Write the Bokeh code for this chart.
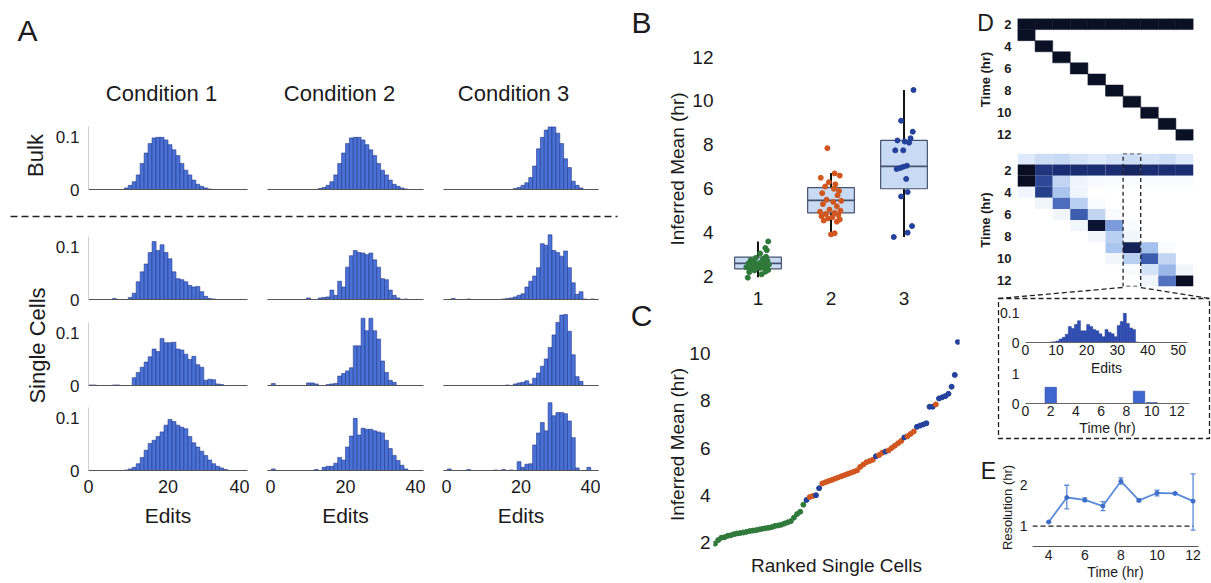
import math
from bokeh.plotting import figure
from bokeh.models import (Range1d, FixedTicker, LinearColorMapper, GridBox, Whisker,
                          TeeHead, ColumnDataSource, CustomJSTickFormatter)
from bokeh.core.properties import value
from bokeh.embed import file_html
from bokeh.resources import INLINE

FONT = "Liberation Sans"
TXT = "#1b1b1b"
BAR_FILL = "#4a71d6"
BAR_LINE = "#24398c"

# ---------------- data ----------------
conditions = ["Condition 1", "Condition 2", "Condition 3"]
row_names = ["Bulk", "Single Cells"]
edit_bins = list(range(40))
edit_ticks = [0, 20, 40]
hist_ticks = [0, 0.1]

bulk_c1 = [0,0,0,0,0,0,0,0,0,0.003, 0.008,0.015,0.028,0.05,0.07,0.088,0.099,0.1,0.1,0.095,
           0.086,0.076,0.065,0.05,0.037,0.028,0.018,0.01,0.006,0.003, 0.001,0,0,0,0,0,0,0,0,0]
bulk_c2 = [0,0,0,0,0,0,0,0,0,0, 0,0,0,0.002,0.004,0.008,0.015,0.028,0.05,0.07,
           0.088,0.099,0.1,0.1,0.095,0.086,0.076,0.065,0.05,0.037, 0.028,0.018,0.01,0.006,0.003,0.001,0,0,0,0]
bulk_c3 = [0,0,0,0,0,0,0,0,0,0, 0,0,0,0,0,0,0,0,0.002,0.004,
           0.008,0.013,0.023,0.045,0.078,0.1,0.114,0.12,0.12,0.108, 0.088,0.059,0.042,0.016,0.008,0.003,0,0,0,0]
sc1_c1 = [0,0,0,0,0,0,0.002,0,0,0, 0.004,0.012,0.034,0.053,0.068,0.09,0.111,0.094,0.105,0.09,
          0.078,0.053,0.04,0.038,0.034,0.027,0.024,0.025,0.015,0.006, 0.002,0.001,0,0,0,0,0,0,0,0]
sc1_c2 = [0,0,0,0,0,0,0,0,0,0, 0.003,0,0,0.003,0.004,0.005,0.018,0.008,0.035,0.024,
          0.062,0.084,0.094,0.09,0.089,0.086,0.089,0.076,0.062,0.04, 0.038,0.018,0.008,0.003,0,0.001,0,0,0,0]
sc1_c3 = [0,0,0.002,0,0,0,0.001,0,0,0, 0,0,0,0,0,0.001,0.002,0.003,0.005,0.008,
          0.011,0.024,0.035,0.045,0.061,0.107,0.104,0.124,0.094,0.09, 0.083,0.093,0.061,0.032,0.01,0.015,0.001,0,0.001,0]
sc2_c1 = [0.001,0.001,0,0,0,0,0.001,0.001,0,0, 0,0.015,0.025,0.035,0.045,0.055,0.07,0.065,0.09,0.082,
          0.082,0.083,0.07,0.068,0.06,0.05,0.056,0.04,0.035,0.01, 0.012,0.011,0.003,0.002,0,0,0,0,0,0]
sc2_c2 = [0,0.004,0,0,0,0,0,0,0,0, 0.005,0.005,0.003,0,0,0.002,0.003,0.004,0.018,0.023,
          0.028,0.034,0.076,0.076,0.129,0.105,0.129,0.105,0.089,0.047, 0.025,0.01,0.006,0,0,0,0,0,0,0]
sc2_c3 = [0,0,0,0,0,0,0,0,0,0, 0,0,0,0,0,0,0.001,0,0.003,0.005,
          0.006,0.009,0.003,0.014,0.024,0.037,0.051,0.073,0.097,0.121, 0.135,0.136,0.104,0.059,0.017,0.008,0,0,0,0]
sc3_c1 = [0,0,0,0,0,0,0,0,0,0.001, 0.003,0.006,0.013,0.025,0.039,0.052,0.058,0.065,0.074,0.087,
          0.098,0.094,0.087,0.083,0.08,0.065,0.053,0.045,0.037,0.029, 0.02,0.013,0.008,0.005,0.002,0,0,0,0,0]
sc3_c2 = [0,0.003,0,0,0,0,0,0,0,0, 0,0,0.002,0,0.006,0.008,0.008,0.014,0.025,0.02,
          0.045,0.066,0.1,0.068,0.081,0.079,0.079,0.076,0.074,0.072, 0.058,0.042,0.029,0.019,0.01,0.003,0,0,0,0]
sc3_c3 = [0,0.003,0,0,0,0,0.002,0,0,0, 0,0,0,0.001,0,0.002,0,0.001,0,0.017,
          0.006,0.012,0.013,0.049,0.072,0.092,0.076,0.13,0.105,0.111, 0.111,0.109,0.095,0.063,0.005,0,0,0.006,0,0]

# Panel B: inferred means per cell (value, horizontal jitter)
vals1 = [1.95, 2.1, 2.2, 2.22, 2.28, 2.3, 2.35, 2.38, 2.4, 2.42, 2.45, 2.48, 2.5, 2.52, 2.55,
         2.58, 2.6, 2.62, 2.65, 2.7, 2.72, 2.75, 2.8, 2.85, 2.9, 3.05, 3.2, 3.3, 3.6]
jit1 = [-0.14, 0.05, -0.12, 0.1, -0.05, 0.14, -0.1, 0.02, 0.08, -0.16, 0.12, -0.02, 0.06, -0.08, 0.15,
        0.0, -0.13, 0.1, 0.04, -0.06, 0.13, -0.1, 0.07, -0.03, 0.11, 0.03, 0.12, 0.1, 0.14]
vals2 = [3.92, 3.97, 4.5, 4.55, 4.6, 4.65, 4.7, 4.75, 4.8, 4.85, 4.9, 4.95, 5.0, 5.05, 5.2,
         5.3, 5.4, 5.45, 5.5, 5.7, 5.8, 5.9, 6.0, 6.1, 6.2, 6.3, 6.5, 6.6, 6.7, 7.85]
jit2 = [0.0, 0.05, 0.08, -0.1, 0.12, -0.04, 0.02, -0.13, 0.1, -0.07, 0.05, -0.15, 0.13, -0.02, 0.08,
        -0.11, 0.03, 0.14, -0.06, 0.09, -0.12, 0.11, 0.04, -0.08, 0.06, -0.03, -0.14, 0.12, 0.05, -0.05]
vals3 = [3.8, 4.0, 4.3, 5.65, 5.85, 6.45, 6.9, 6.95, 7.0, 7.05, 7.75, 7.75, 8.1, 8.15, 8.2,
         8.3, 8.6, 9.1, 10.5]
jit3 = [-0.14, 0.05, 0.11, -0.04, 0.05, 0.03, -0.1, -0.05, -0.01, 0.04, -0.12, -0.01, 0.07, 0.01, -0.09,
        0.09, 0.12, -0.04, 0.13]
box_x = [1, 2, 3]
box_q1 = [2.35, 4.9, 6.0]
box_med = [2.6, 5.47, 7.02]
box_q3 = [2.88, 6.05, 8.2]
whisk_lo = [1.97, 3.92, 3.8]
whisk_hi = [3.6, 6.72, 10.5]
mean_ticks = [2, 4, 6, 8, 10, 12]
cond_colors = ["#2f7a3a", "#d2561f", "#24419b"]

# Panel D: simulated (true) events and inferred probabilities
cells = list(range(10))
first_event = [2] * 10
second_event = [3, 4, 5, 6, 7, 8, 9, 10, 11, 12]
time_rows = list(range(1, 13))
inferred = [
    [0.12, 0.18, 0.2, 0.15, 0.12, 0.15, 0.18, 0.15, 0.18, 0.12],
    [1.0, 0.82, 0.85, 0.85, 0.85, 0.85, 0.88, 0.85, 0.85, 0.85],
    [1.0, 0.75, 0.22, 0.06, 0.03, 0.02, 0.02, 0.02, 0.02, 0.02],
    [0.05, 0.78, 0.3, 0.05, 0, 0, 0, 0, 0, 0],
    [0, 0.05, 0.62, 0.25, 0.02, 0, 0, 0, 0, 0],
    [0, 0, 0.05, 0.68, 0.22, 0.02, 0, 0, 0, 0],
    [0, 0, 0, 0.05, 0.97, 0.45, 0.02, 0, 0, 0],
    [0, 0, 0, 0, 0.05, 0.25, 0.05, 0, 0, 0],
    [0, 0, 0, 0, 0, 0.3, 0.9, 0.32, 0.02, 0],
    [0, 0, 0, 0, 0, 0.05, 0.25, 0.68, 0.22, 0],
    [0, 0, 0, 0, 0, 0, 0.02, 0.15, 0.35, 0.05],
    [0, 0, 0, 0, 0, 0, 0, 0.05, 0.6, 1.0],
]
selected_cell = 6
time_ticks = [2, 4, 6, 8, 10, 12]

inset_bins = list(range(53))
inset_hist = [0,0,0,0,0,0,0,0,0.002,0.003, 0.005,0.012,0.018,0.028,0.055,0.048,0.062,0.075,0.04,0.04,
              0.062,0.055,0.045,0.04,0.03,0.02,0.045,0.035,0.03,0.02, 0.058,0.072,0.1,0.065,0.05,0.045,0.002,0,0,0,
              0,0,0,0,0,0,0,0,0,0, 0,0,0]
inset_ticks = [0, 10, 20, 30, 40, 50]
inset_times = list(range(1, 13))
inset_prob = [0, 0.54, 0, 0, 0, 0, 0, 0, 0.41, 0.03, 0, 0]

# Panel E
res_time = [4, 5, 6, 7, 8, 9, 10, 11, 12]
res_mean = [1.1, 1.7, 1.64, 1.49, 2.1, 1.63, 1.81, 1.8, 1.61]
res_lo = [1.1, 1.42, 1.6, 1.38, 2.03, 1.6, 1.74, 1.78, 0.9]
res_hi = [1.1, 2.0, 1.69, 1.6, 2.18, 1.66, 1.88, 1.82, 2.28]
res_ticks_x = [4, 6, 8, 10, 12]
res_ticks_y = [1, 2]

# ---------------- helpers ----------------
def mkfig(fx, fy, fw, fh, xr, yr, bl=2, br=2, bt=2, bb=2, xaxis=None, yaxis=None):
    p = figure(width=fw + bl + br, height=fh + bt + bb, x_range=xr, y_range=yr,
               x_axis_location=xaxis, y_axis_location=yaxis,
               output_backend="svg", toolbar_location=None,
               min_border_left=bl, min_border_right=br, min_border_top=bt, min_border_bottom=bb,
               background_fill_color=None, border_fill_color=None, outline_line_color=None)
    p.frame_align = False
    p.margin = (fy - bt, 0, 0, fx - bl)
    p.grid.visible = False
    return p


def style_axis(ax, size, ticks, standoff=6, bold=False, line_color=None,
               label=None, label_size=None, label_standoff=5, label_bold=False):
    ax.ticker = FixedTicker(ticks=ticks)
    ax.major_tick_line_color = None
    ax.minor_tick_line_color = None
    ax.major_tick_out = 0
    ax.major_tick_in = 0
    ax.major_label_text_font = FONT
    ax.major_label_text_font_size = size
    ax.major_label_text_color = TXT
    ax.major_label_text_font_style = "bold" if bold else "normal"
    ax.major_label_standoff = standoff
    ax.axis_line_color = line_color
    if label is not None:
        ax.axis_label = label
        ax.axis_label_text_font = FONT
        ax.axis_label_text_font_size = label_size
        ax.axis_label_text_color = TXT
        ax.axis_label_text_font_style = "bold" if label_bold else "normal"
        ax.axis_label_standoff = label_standoff


num_fmt = CustomJSTickFormatter(code="return String(Math.round(tick*100)/100);")

figs = []

# ---------------- background (panel letters, shared labels, dashed guides) ----------------
bg = figure(width=1211, height=583, x_range=Range1d(0, 1211), y_range=Range1d(583, 0),
            x_axis_location=None, y_axis_location=None, output_backend="svg",
            toolbar_location=None, min_border=0, outline_line_color=None,
            background_fill_color="white", border_fill_color="white")
bg.frame_align = False
bg.grid.visible = False
bg.text(x=[27, 641, 641], y=[30, 22, 315], text=["A", "B", "C"], text_font=value(FONT),
        text_font_size=value("30px"), text_align="center", text_baseline="middle", text_color=TXT)
bg.text(x=[985, 988], y=[22, 470], text=["D", "E"], text_font=value(FONT),
        text_font_size=value("23px"), text_align="center", text_baseline="middle", text_color=TXT)
bg.text(x=[161, 339, 513], y=[93, 93, 93], text=conditions, text_font=value(FONT),
        text_font_size=value("22px"), text_align="center", text_baseline="middle", text_color=TXT)
bg.text(x=[35, 37], y=[155, 345], text=row_names, text_font=value(FONT), angle=[math.pi / 2] * 2,
        text_font_size=value("22px"), text_align="center", text_baseline="middle", text_color=TXT)
bg.line(x=[10, 617], y=[216, 216], line_dash="7 4", line_width=1.6, line_color="#222222")
bg.line(x=[1122, 998, 998, 1209, 1209, 1140], y=[287, 298, 438, 438, 298, 287],
        line_dash="5 3", line_width=1.3, line_color="#222222")
bg.line(x=[998, 1209], y=[298, 298], line_dash="5 3", line_width=1.3, line_color="#222222")
figs.append(bg)

# ---------------- panel A histograms ----------------
hist_rows = [[bulk_c1, bulk_c2, bulk_c3], [sc1_c1, sc1_c2, sc1_c3],
             [sc2_c1, sc2_c2, sc2_c3], [sc3_c1, sc3_c2, sc3_c3]]
col_x = [88, 267, 443]
col_w = [159, 156, 155]
row_base = [189, 299, 385, 470]
HH = 73
centers = [b + 0.5 for b in edit_bins]
for r in range(4):
    for c in range(3):
        bottom = (r == 3)
        p = mkfig(col_x[c], row_base[r] - HH, col_w[c], HH, Range1d(0, 40), Range1d(0, 0.14),
                  bl=60 if c == 0 else 2, br=2, bt=2, bb=70 if bottom else 20,
                  xaxis="below", yaxis="left" if c == 0 else None)
        p.vbar(x=centers, top=hist_rows[r][c], width=1, fill_color=BAR_FILL,
               line_color=BAR_LINE, line_width=0.6)
        if bottom:
            style_axis(p.xaxis[0], "18px", edit_ticks, standoff=9, line_color="#555555",
                       label="Edits", label_size="21px", label_standoff=8)
        else:
            style_axis(p.xaxis[0], "1px", [0], standoff=0, line_color="#555555")
            p.xaxis[0].major_label_text_color = None
        if c == 0:
            style_axis(p.yaxis[0], "17px", hist_ticks, standoff=9, line_color="#cfcfcf")
            p.yaxis[0].formatter = num_fmt
            p.yaxis[0].bounds = (0, 0.12)
        figs.append(p)

# ---------------- panel B box plot ----------------
pB = mkfig(721, 50, 219, 237, Range1d(0.5, 3.5), Range1d(1.5, 12.3),
           bl=62, br=4, bt=4, bb=34, xaxis="below", yaxis="left")
pB.segment(x0=box_x, x1=box_x, y0=whisk_lo, y1=box_q1, line_color="#111111", line_width=2)
pB.segment(x0=box_x, x1=box_x, y0=box_q3, y1=whisk_hi, line_color="#111111", line_width=2)
pB.vbar(x=box_x, bottom=box_q1, top=box_q3, width=0.64, fill_color="#c9daf5",
        line_color="#46536f", line_width=1.2)
pB.segment(x0=[x - 0.32 for x in box_x], x1=[x + 0.32 for x in box_x], y0=box_med, y1=box_med,
           line_color="#46536f", line_width=1.6)
for k, (vals, jit) in enumerate([(vals1, jit1), (vals2, jit2), (vals3, jit3)]):
    pB.scatter(x=[box_x[k] + j for j in jit], y=vals, size=5, fill_color=cond_colors[k],
               line_color=cond_colors[k])
style_axis(pB.yaxis[0], "19px", mean_ticks, standoff=8, label="Inferred Mean (hr)",
           label_size="19px", label_standoff=1)
style_axis(pB.xaxis[0], "19px", box_x, standoff=4)
figs.append(pB)

# ---------------- panel C ranked cells ----------------
all_cells = ([(v, cond_colors[0]) for v in vals1] + [(v, cond_colors[1]) for v in vals2]
             + [(v, cond_colors[2]) for v in vals3])
ranked = sorted(all_cells, key=lambda t: t[0])
n_cells = len(ranked)
srcC = ColumnDataSource(dict(rank=list(range(n_cells)), val=[t[0] for t in ranked],
                             color=[t[1] for t in ranked]))
pC = mkfig(713, 339, 246, 210, Range1d(-0.5, n_cells - 0.5), Range1d(1.7, 10.6),
           bl=62, br=4, bt=4, bb=34, xaxis="below", yaxis="left")
pC.scatter(x="rank", y="val", color="color", size=5, source=srcC)
style_axis(pC.yaxis[0], "19px", [2, 4, 6, 8, 10], standoff=3, label="Inferred Mean (hr)",
           label_size="19px", label_standoff=-2)
style_axis(pC.xaxis[0], "1px", [0], standoff=0, label="Ranked Single Cells", label_size="19px",
           label_standoff=5)
pC.xaxis[0].major_label_text_color = None
figs.append(pC)

# ---------------- panel D heatmaps ----------------
tx, ty = [], []
for j in cells:
    tx += [j, j]
    ty += [first_event[j], second_event[j]]
pD1 = mkfig(1015, 18, 178, 122, Range1d(-0.5, 9.5), Range1d(12.5, 1.5),
            bl=40, br=4, bt=4, bb=4, yaxis="left")
pD1.rect(x=tx, y=ty, width=1, height=1, fill_color="#0b1124", line_color="#0b1124", line_width=0.5)
style_axis(pD1.yaxis[0], "13px", time_ticks, standoff=6, bold=True, label="Time (hr)",
           label_size="13px", label_standoff=1, label_bold=True)
figs.append(pD1)

anchors = [(0.0, (255, 255, 255)), (0.12, (222, 233, 250)), (0.3, (170, 197, 238)),
           (0.5, (108, 142, 214)), (0.7, (55, 86, 170)), (0.86, (24, 42, 110)), (1.0, (10, 14, 34))]
palette = []
for i in range(101):
    f = i / 100
    for (a, ca), (b, cb) in zip(anchors[:-1], anchors[1:]):
        if a <= f <= b:
            u = (f - a) / (b - a)
            rgb = [round(ca[m] + (cb[m] - ca[m]) * u) for m in range(3)]
            palette.append("#%02x%02x%02x" % tuple(rgb))
            break
mapper = LinearColorMapper(palette=palette, low=0, high=1)
hx, hy, hv = [], [], []
for i, t in enumerate(time_rows):
    for j in cells:
        if inferred[i][j] > 0:
            hx.append(j); hy.append(t); hv.append(inferred[i][j])
srcD = ColumnDataSource(dict(x=hx, y=hy, v=hv))
pD2 = mkfig(1015, 153, 178, 133, Range1d(-0.5, 9.5), Range1d(12.5, 0.5),
            bl=40, br=4, bt=4, bb=4, yaxis="left")
pD2.rect(x="x", y="y", width=1, height=1, source=srcD,
         fill_color={"field": "v", "transform": mapper}, line_color=None)
pD2.rect(x=[selected_cell], y=[6.5], width=1, height=12, fill_color=None, line_color="#222222",
         line_width=1.3, line_dash="4 3")
style_axis(pD2.yaxis[0], "13px", time_ticks, standoff=6, bold=True, label="Time (hr)",
           label_size="13px", label_standoff=1, label_bold=True)
figs.append(pD2)

# inset histogram of edits
pI1 = mkfig(1025, 307, 162, 35, Range1d(0, 53), Range1d(0, 0.12),
            bl=30, br=4, bt=10, bb=40, xaxis="below", yaxis="left")
pI1.vbar(x=[b + 0.5 for b in inset_bins], top=inset_hist, width=1, fill_color="#2f4fb8",
         line_color="#1d3080", line_width=0.4)
style_axis(pI1.xaxis[0], "14px", inset_ticks, standoff=2, line_color="#666666",
           label="Edits", label_size="14px", label_standoff=2)
style_axis(pI1.yaxis[0], "14px", hist_ticks, standoff=6)
pI1.yaxis[0].formatter = num_fmt
figs.append(pI1)

# inset inferred timing
pI2 = mkfig(1025, 370, 164, 33, Range1d(0, 13), Range1d(0, 1.1),
            bl=30, br=4, bt=12, bb=40, xaxis="below", yaxis="left")
pI2.vbar(x=inset_times, top=inset_prob, width=0.9, fill_color="#3f66cf", line_color="#2a47a8",
         line_width=0.6)
style_axis(pI2.xaxis[0], "14px", [0, 2, 4, 6, 8, 10, 12], standoff=2, line_color="#666666",
           label="Time (hr)", label_size="14px", label_standoff=1)
style_axis(pI2.yaxis[0], "14px", [0, 1], standoff=6)
figs.append(pI2)

# ---------------- panel E resolution ----------------
pE = mkfig(1032, 468, 166, 84, Range1d(3.1, 12.3), Range1d(0.5, 2.41),
           bl=45, br=4, bt=16, bb=30, xaxis="below", yaxis="left")
pE.segment(x0=[3.1], x1=[res_time[-1]], y0=[1], y1=[1], line_color="#222222", line_width=1.3,
           line_dash="5 3")
srcE = ColumnDataSource(dict(t=res_time, m=res_mean, lo=res_lo, hi=res_hi))
pE.add_layout(Whisker(source=srcE, base="t", lower="lo", upper="hi", line_color="#5b8bd8",
                      line_width=1.3,
                      lower_head=TeeHead(size=5, line_color="#5b8bd8", line_width=1.3),
                      upper_head=TeeHead(size=5, line_color="#5b8bd8", line_width=1.3)))
pE.line(x="t", y="m", source=srcE, line_color="#5b8bd8", line_width=1.8)
pE.scatter(x="t", y="m", source=srcE, size=4, fill_color="#3e6cc9", line_color="#3e6cc9")
style_axis(pE.xaxis[0], "14px", res_ticks_x, standoff=3, line_color="#555555",
           label="Time (hr)", label_size="14px", label_standoff=1)
style_axis(pE.yaxis[0], "14px", res_ticks_y, standoff=5, label="Resolution (hr)",
           label_size="13px", label_standoff=2)
figs.append(pE)

grid = GridBox(children=[(f, 0, 0) for f in figs])
open("out.html", "w").write(file_html(grid, INLINE))
